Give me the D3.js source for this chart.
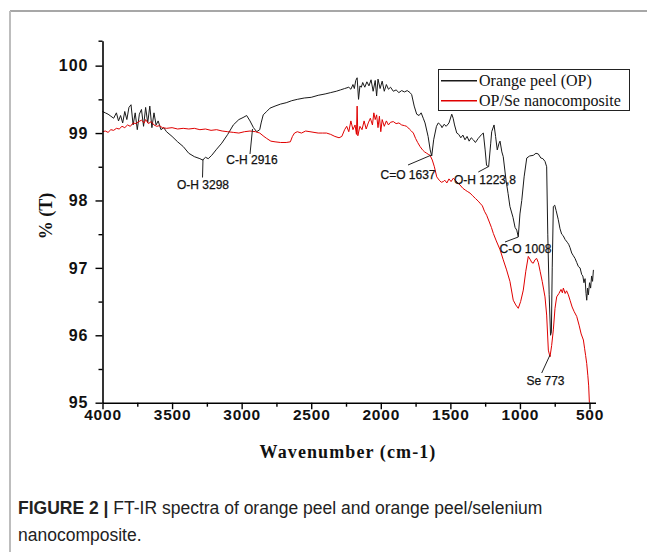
<!DOCTYPE html>
<html><head><meta charset="utf-8">
<script src="https://cdn.jsdelivr.net/npm/d3@7"></script>
<style>
html,body{margin:0;padding:0;background:#fff;}
svg{display:block;}
</style></head>
<body>
<svg id="chart" width="647" height="552"></svg>
<script>
// ---- data (wavenumber cm-1, %T) ----
const opWave = [4000,3980,3960,3940,3920,3900,3885,3870,3855,3840,3825,3810,3795,3780,3765,3750,3735,3720,3705,3690,3675,3660,3645,3630,3615,3600,3580,3560,3540,3500,3460,3420,3380,3340,3300,3280,3260,3240,3215,3180,3143,3100,3060,3020,2990,2964,2940,2915,2892,2870,2860,2845,2820,2796,2760,2720,2680,2640,2600,2550,2500,2450,2400,2360,2320,2290,2260,2230,2215,2200,2190,2180,2170,2160,2150,2140,2130,2115,2100,2085,2070,2055,2040,2030,2020,2005,1990,1975,1960,1945,1930,1910,1890,1870,1850,1830,1810,1790,1778,1760,1742,1725,1710,1695,1682,1660,1645,1634,1620,1600,1587,1570,1560,1545,1530,1510,1490,1480,1470,1454,1440,1425,1410,1395,1380,1365,1350,1335,1320,1300,1275,1263,1250,1240,1225,1210,1203,1186,1175,1163,1150,1143,1130,1120,1100,1085,1072,1050,1035,1023,1012,1000,987,970,951,930,904,885,868,850,835,820,808,800,790,780,774,768,760,750,740,725,712,700,690,675,660,650,640,628,616,604,592,580,568,556,548,540,532,525,520,514,508,500,492,485,478,472];
const opT = [99.32,99.30,99.28,99.25,99.22,99.30,99.18,99.26,99.15,99.32,99.20,99.38,99.42,99.12,99.30,99.05,99.28,99.35,99.10,99.38,99.15,99.40,99.08,99.30,99.12,99.18,99.05,99.08,99.02,98.95,98.87,98.80,98.70,98.65,98.62,98.60,98.64,98.62,98.67,98.76,98.85,98.98,99.12,99.20,99.23,99.26,99.18,99.08,99.02,99.05,99.15,99.27,99.32,99.37,99.40,99.43,99.45,99.48,99.50,99.52,99.53,99.56,99.58,99.60,99.62,99.64,99.66,99.68,99.65,99.72,99.66,99.78,99.82,99.50,99.70,99.68,99.75,99.68,99.76,99.70,99.79,99.62,99.78,99.55,99.80,99.66,99.77,99.62,99.72,99.65,99.68,99.62,99.64,99.60,99.63,99.61,99.63,99.60,99.57,99.40,99.28,99.26,99.30,99.22,99.15,98.95,98.75,98.66,98.90,99.10,99.15,99.12,99.08,99.13,99.10,99.15,99.28,99.22,99.12,99.00,98.98,98.93,98.97,98.90,98.95,98.88,98.93,98.90,98.86,98.92,98.98,99.00,98.75,98.52,98.50,98.85,99.02,99.12,98.95,98.75,98.85,98.88,98.72,98.65,98.30,98.10,97.91,97.75,97.60,97.56,97.46,97.80,98.00,98.35,98.63,98.66,98.67,98.70,98.69,98.63,98.62,98.58,98.50,97.50,96.60,96.00,96.05,97.00,97.91,97.93,97.85,97.72,97.58,97.50,97.48,97.42,97.38,97.35,97.30,97.22,97.18,97.14,97.08,97.02,97.00,96.90,96.88,96.78,96.84,96.62,96.52,96.70,96.60,96.78,96.70,96.88,96.80,96.97];

const seWave = [4000,3980,3960,3940,3920,3900,3880,3860,3840,3820,3800,3780,3760,3740,3720,3700,3690,3670,3650,3630,3610,3590,3570,3540,3500,3460,3420,3380,3340,3300,3260,3220,3180,3140,3100,3060,3020,2980,2940,2900,2870,2840,2820,2790,2760,2720,2680,2650,2635,2620,2600,2570,2540,2509,2480,2450,2420,2390,2360,2330,2300,2280,2260,2245,2230,2215,2200,2185,2175,2170,2165,2150,2135,2120,2105,2090,2075,2060,2050,2040,2030,2020,2010,2000,1990,1975,1960,1945,1930,1910,1890,1870,1850,1830,1814,1795,1780,1766,1750,1735,1718,1700,1685,1670,1655,1646,1630,1615,1598,1580,1565,1551,1540,1525,1510,1495,1479,1465,1450,1431,1410,1390,1375,1359,1340,1320,1300,1287,1270,1255,1239,1220,1205,1191,1170,1143,1120,1096,1072,1048,1030,1012,995,976,958,940,925,915,904,892,880,868,855,840,820,808,796,784,772,760,748,736,720,705,695,688,675,665,652,640,625,610,592,575,560,544,535,528,520,512,506,501];
const seT = [99.02,99.03,99.01,99.05,99.04,99.07,99.06,99.10,99.08,99.12,99.10,99.15,99.14,99.17,99.19,99.15,99.20,99.14,99.17,99.12,99.10,99.11,99.08,99.07,99.08,99.06,99.07,99.06,99.07,99.05,99.06,99.04,99.05,99.03,99.02,99.01,99.00,99.02,99.03,99.02,99.00,98.95,98.92,98.88,98.87,98.86,98.86,98.87,98.95,99.00,99.02,99.00,99.03,99.02,99.01,99.00,99.00,99.00,98.98,98.95,98.93,98.95,99.05,99.10,99.02,99.18,99.05,99.12,98.98,99.40,98.96,99.10,99.05,99.18,99.06,99.15,99.22,99.12,99.30,99.20,99.27,99.08,99.25,99.02,99.20,99.10,99.18,99.12,99.16,99.17,99.14,99.15,99.12,99.11,99.10,99.06,99.03,99.00,98.92,98.86,98.80,98.75,98.72,98.70,98.68,98.67,98.60,98.50,98.35,98.30,98.27,98.28,98.30,98.26,98.32,98.28,98.33,98.30,98.27,98.23,98.18,98.15,98.13,98.11,98.07,98.03,97.99,97.96,97.92,97.84,97.78,97.68,97.60,97.51,97.40,97.27,97.12,96.97,96.80,96.52,96.45,96.40,96.50,96.67,96.95,97.17,97.12,97.08,97.07,97.12,97.14,97.08,96.95,96.80,96.57,96.30,95.78,95.68,95.85,96.08,96.40,96.57,96.62,96.68,96.63,96.70,96.62,96.66,96.60,96.52,96.42,96.35,96.28,96.15,96.02,95.93,95.80,95.70,95.58,95.40,95.25,95.00];

const seriesNames = ["Orange peel (OP)", "OP/Se nanocomposite"];
const seriesColors = ["#1a1a1a", "#e00000"];
const xTicks = [4000,3500,3000,2500,2000,1500,1000,500];
const xMinor = [3750,3250,2750,2250,1750,1250,750];
const yTicks = [95,96,97,98,99,100];
const yMinor = [95.5,96.5,97.5,98.5,99.5];
const annotations = [
  {text:"O-H 3298", tx:203, ty:184.5, x1:203, y1:159, x2:202.5, y2:177.5},
  {text:"C-H 2916", tx:252, ty:159.5, x1:252.5, y1:129, x2:250, y2:154},
  {text:"C=O 1637", tx:408, ty:174.5, x1:431.5, y1:155, x2:408, y2:165},
  {text:"O-H 1223,8", tx:485, ty:179.5, x1:488.3, y1:166.7, x2:478.3, y2:172},
  {text:"C-O 1008", tx:525.5, ty:249, x1:518.3, y1:237, x2:505, y2:242},
  {text:"Se 773", tx:545.5, ty:381, x1:550, y1:355, x2:541.7, y2:373}
];

const svg = d3.select("#chart");

// frame
svg.append("line").attr("x1",10).attr("y1",11).attr("x2",647).attr("y2",11).attr("stroke","#8a8a8a").attr("stroke-width",1.5);
svg.append("line").attr("x1",10).attr("y1",11).attr("x2",10).attr("y2",552).attr("stroke","#bdbdbd").attr("stroke-width",2);

const x = d3.scaleLinear().domain([4000,457]).range([102.5,595.5]);
const y = d3.scaleLinear().domain([95,100.37]).range([402.7,40.7]);

// lines
const line = d3.line().x(d=>x(d[0])).y(d=>y(d[1]));
const opData = opWave.map((w,i)=>[w,opT[i]]);
const seData = seWave.map((w,i)=>[w,seT[i]]);
svg.append("path").datum(opData).attr("d",line).attr("fill","none").attr("stroke",seriesColors[0]).attr("stroke-width",1);
svg.append("path").datum(seData).attr("d",line).attr("fill","none").attr("stroke",seriesColors[1]).attr("stroke-width",1);

// axes
const gx = svg.append("g").attr("transform","translate(0,402.7)");
gx.call(d3.axisBottom(x).tickValues(xTicks).tickSize(6.5).tickSizeOuter(0).tickFormat(d3.format("d")));
const gxm = svg.append("g").attr("transform","translate(0,402.7)");
gxm.call(d3.axisBottom(x).tickValues(xMinor).tickSize(4).tickSizeOuter(0).tickFormat(""));
gxm.select(".domain").remove();
const gy = svg.append("g").attr("transform","translate(102.5,0)");
gy.call(d3.axisLeft(y).tickValues(yTicks).tickSize(7).tickSizeOuter(0).tickFormat(d3.format("d")));
const gym = svg.append("g").attr("transform","translate(102.5,0)");
gym.call(d3.axisLeft(y).tickValues(yMinor.concat([100.37])).tickSize(4).tickSizeOuter(0).tickFormat(""));
gym.select(".domain").remove();

svg.selectAll(".domain").attr("stroke","#000").attr("stroke-width",1.6);
svg.selectAll(".tick line").attr("stroke","#000").attr("stroke-width",1.4);
gx.selectAll(".tick text").attr("font-family","'Liberation Sans', Arial, sans-serif").attr("font-weight","bold").attr("font-size",15.5).attr("letter-spacing","0.8px").attr("fill","#111").attr("dy","0.71em").attr("y",6);
gy.selectAll(".tick text").attr("font-family","'Liberation Sans', Arial, sans-serif").attr("font-weight","bold").attr("font-size",16).attr("letter-spacing","1px").attr("fill","#111").attr("x",-14);

// axis titles
svg.append("text").attr("x",348).attr("y",458).attr("text-anchor","middle")
  .attr("font-family","'Liberation Serif','Times New Roman',serif").attr("font-weight","bold").attr("font-size",18).attr("letter-spacing","1.1px").attr("fill","#111")
  .text("Wavenumber (cm-1)");
svg.append("text").attr("transform","translate(52,216) rotate(-90)").attr("text-anchor","middle")
  .attr("font-family","'Liberation Serif','Times New Roman',serif").attr("font-weight","bold").attr("font-size",18).attr("fill","#111")
  .text("% (T)");

// annotations
const ann = svg.append("g");
annotations.forEach(a=>{
  ann.append("line").attr("x1",a.x1).attr("y1",a.y1).attr("x2",a.x2).attr("y2",a.y2).attr("stroke","#222").attr("stroke-width",1);
  ann.append("text").attr("x",a.tx).attr("y",a.ty).attr("dy","0.35em").attr("text-anchor","middle")
    .attr("font-family","'Liberation Sans', Arial, sans-serif").attr("font-size",12).attr("fill","#111").attr("stroke","#111").attr("stroke-width",0.25).text(a.text);
});

// legend
const lg = svg.append("g");
lg.append("rect").attr("x",438.5).attr("y",69.5).attr("width",191).attr("height",41).attr("fill","#fff").attr("stroke","#222").attr("stroke-width",1);
seriesNames.forEach((n,i)=>{
  const yy = 80.7 + i*20;
  lg.append("line").attr("x1",441).attr("x2",477).attr("y1",yy).attr("y2",yy).attr("stroke",seriesColors[i]).attr("stroke-width",1.5);
  lg.append("text").attr("x",479).attr("y",yy).attr("dy","0.33em").attr("font-family","'Liberation Serif','Times New Roman',serif").attr("font-size",16).attr("fill","#111").text(n);
});

// caption
const cap = svg.append("text").attr("x",18).attr("y",514).attr("font-family","'Liberation Sans', Arial, sans-serif").attr("font-size",17.5).attr("fill","#222");
cap.append("tspan").attr("font-weight","bold").text("FIGURE 2 | ");
cap.append("tspan").text("FT-IR spectra of orange peel and orange peel/selenium");
svg.append("text").attr("x",18).attr("y",541).attr("font-family","'Liberation Sans', Arial, sans-serif").attr("font-size",17.5).attr("fill","#222").text("nanocomposite.");
</script>
</body></html>
